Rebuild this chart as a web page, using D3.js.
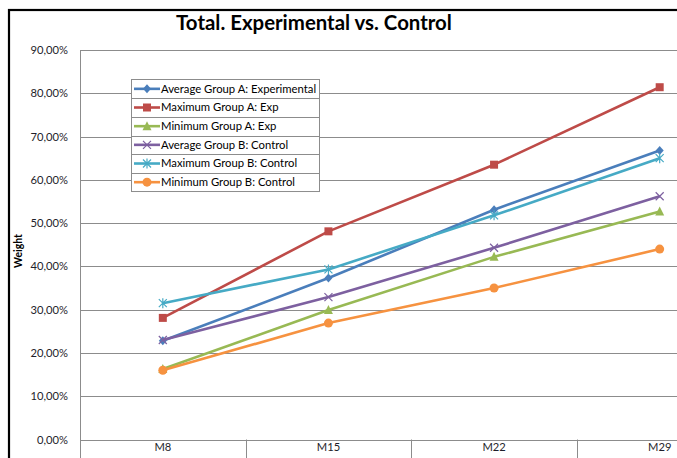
<!DOCTYPE html>
<html><head><meta charset="utf-8">
<script src="https://cdn.jsdelivr.net/npm/d3@7"></script>
<style>
html,body{margin:0;padding:0;background:#fff;}
svg{display:block;}
text{font-family:Lato,"Open Sans",sans-serif;}
</style></head>
<body>
<svg id="c" width="677" height="458"></svg>
<script>
const categories = ["M8","M15","M22","M29"];
const seriesNames = ["Average Group A: Experimental","Maximum Group A: Exp","Minimum Group A: Exp","Average Group B: Control","Maximum Group B: Control","Minimum Group B: Control"];
const avgA = [0.228,0.373,0.531,0.668];
const maxA = [0.281,0.481,0.635,0.814];
const minA = [0.163,0.299,0.422,0.527];
const avgB = [0.230,0.329,0.443,0.562];
const maxB = [0.315,0.393,0.518,0.650];
const minB = [0.160,0.269,0.350,0.440];
const yTicks = [0,0.1,0.2,0.3,0.4,0.5,0.6,0.7,0.8,0.9];
const colors = ["#4A7EBB","#BE4B48","#98B954","#7D60A0","#46AAC5","#F69240"];
const markers = ["diamond","square","triangle","x","star","circle"];
const values = [avgA,maxA,minA,avgB,maxB,minB];

const svg = d3.select("#c");
const pLeft = 80, pTop = 50, pBottom = 439.5, pRight = 742.5;
const x = d3.scaleBand().domain(categories).range([pLeft,pRight]).padding(0);
const y = d3.scaleLinear().domain([0,0.9]).range([pBottom,pTop]);
const fmt = v => d3.format(".2f")(v*100).replace(".",",")+"%";

// outer border
svg.append("rect").attr("x",9).attr("y",10).attr("width",760).attr("height",500)
  .attr("fill","none").attr("stroke","#000").attr("stroke-width",2.2);

// gridlines
svg.append("g").selectAll("line").data(yTicks).join("line")
  .attr("x1",pLeft).attr("x2",677).attr("y1",d=>Math.round(y(d))+0.5).attr("y2",d=>Math.round(y(d))+0.5)
  .attr("stroke","#8c8c8c").attr("stroke-width",1);

// y axis
const yAxis = d3.axisLeft(y).tickValues(yTicks).tickFormat(fmt).tickSize(0).tickPadding(12);
const gy = svg.append("g").attr("transform",`translate(${pLeft},0)`).call(yAxis);
gy.select(".domain").remove();
gy.selectAll("text").attr("font-size",11.2).attr("fill","#1e1e2a").attr("font-family","Lato, sans-serif");
svg.append("line").attr("x1",pLeft+0.5).attr("x2",pLeft+0.5).attr("y1",pTop).attr("y2",458).attr("stroke","#8c8c8c");

// x axis
const xAxis = d3.axisBottom(x).tickSize(0).tickPadding(4);
const gx = svg.append("g").attr("transform",`translate(0,${pBottom})`).call(xAxis);
gx.select(".domain").remove();
gx.selectAll("text").attr("font-size",11.2).attr("fill","#1e1e2a").attr("font-family","Lato, sans-serif");
svg.append("g").selectAll("line").data(categories.slice(1)).join("line")
  .attr("x1",d=>Math.round(x(d))+0.5).attr("x2",d=>Math.round(x(d))+0.5).attr("y1",pBottom).attr("y2",458)
  .attr("stroke","#8c8c8c");

// title
svg.append("text").attr("x",314).attr("y",29.5).attr("text-anchor","middle")
  .attr("font-size",20.4).attr("font-weight","bold").attr("fill","#000").text("Total. Experimental vs. Control");

// y label
svg.append("text").attr("transform","translate(22,251) rotate(-90)").attr("text-anchor","middle")
  .attr("font-size",10.5).attr("font-weight","bold").attr("fill","#000").text("Weight");

function marker(g, type, color, cx, cy){
  const s = 4;
  if(type==="diamond") g.append("path").attr("d",`M${cx},${cy-s-0.5}L${cx+s},${cy}L${cx},${cy+s+0.5}L${cx-s},${cy}Z`).attr("fill",color);
  else if(type==="square") g.append("rect").attr("x",cx-s).attr("y",cy-s).attr("width",2*s).attr("height",2*s).attr("fill",color);
  else if(type==="triangle") g.append("path").attr("d",`M${cx},${cy-s-1}L${cx+s+0.5},${cy+s}L${cx-s-0.5},${cy+s}Z`).attr("fill",color);
  else if(type==="circle") g.append("circle").attr("cx",cx).attr("cy",cy).attr("r",s+0.5).attr("fill",color);
  else if(type==="x") g.append("path").attr("d",`M${cx-s},${cy-s}L${cx+s},${cy+s}M${cx-s},${cy+s}L${cx+s},${cy-s}`).attr("stroke",color).attr("stroke-width",1.2);
  else if(type==="star") g.append("path").attr("d",`M${cx-s},${cy-s}L${cx+s},${cy+s}M${cx-s},${cy+s}L${cx+s},${cy-s}M${cx},${cy-s-1}L${cx},${cy+s+1}`).attr("stroke",color).attr("stroke-width",1.2);
}

const line = d3.line().x((d,i)=>x(categories[i])+x.bandwidth()/2).y(d=>y(d));
values.forEach((vals,si)=>{
  const g = svg.append("g");
  g.append("path").datum(vals).attr("d",line).attr("fill","none").attr("stroke",colors[si]).attr("stroke-width",2.6).attr("stroke-linejoin","round");
  vals.forEach((v,i)=>marker(g,markers[si],colors[si],x(categories[i])+x.bandwidth()/2,y(v)));
});

// legend
const lx = 131.5, ly = 79.5, lw = 188, rowH = 18.67;
const lg = svg.append("g");
lg.append("rect").attr("x",lx).attr("y",ly).attr("width",lw).attr("height",rowH*6).attr("fill","#fff").attr("stroke","#8c8c8c");
seriesNames.forEach((n,i)=>{
  const cy = ly + rowH*i + rowH/2;
  if(i>0) lg.append("line").attr("x1",lx).attr("x2",lx+lw).attr("y1",Math.round(ly+rowH*i)+0.5).attr("y2",Math.round(ly+rowH*i)+0.5).attr("stroke","#8c8c8c");
  lg.append("line").attr("x1",134).attr("x2",160).attr("y1",cy).attr("y2",cy).attr("stroke",colors[i]).attr("stroke-width",2.6);
  marker(lg,markers[i],colors[i],147,cy);
  lg.append("text").attr("x",161).attr("y",cy+3.9).attr("font-size",11.3).attr("fill","#000").text(n);
});
</script>
</body></html>
